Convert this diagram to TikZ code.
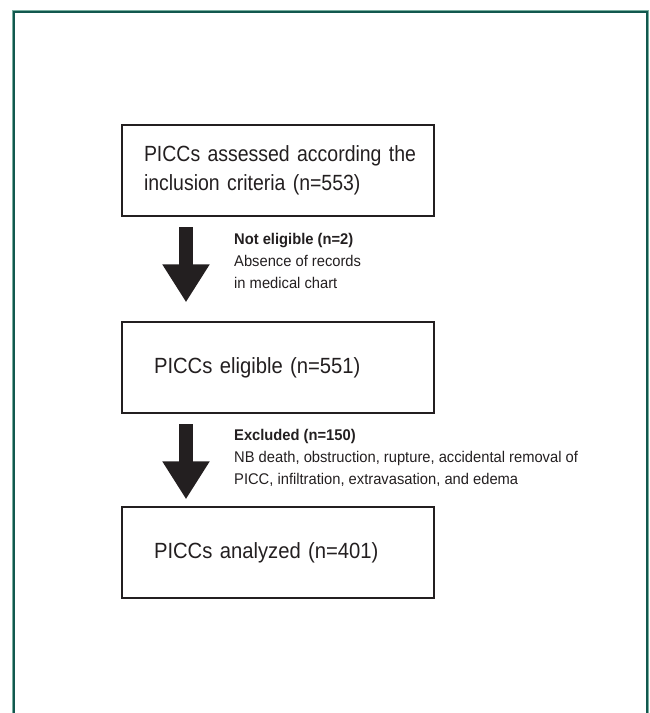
\documentclass[tikz,border=0pt]{standalone}
\usepackage{fontspec}
\usetikzlibrary{arrows.meta}
\newfontfamily\boxfont[FakeStretch=0.92]{Liberation Sans}
\newfontfamily\boxfontnarrow[FakeStretch=0.885]{Liberation Sans}
\newfontfamily\notefont[FakeStretch=0.95]{Liberation Sans}
\definecolor{ink}{RGB}{35,31,32}
\definecolor{framedark}{RGB}{18,88,78}
\definecolor{framelight}{RGB}{120,175,160}
\tikzset{
  stagebox/.style={draw=ink, line width=2pt, rectangle, anchor=north west,
    minimum width=312pt, minimum height=91pt, align=left, text=ink,
    font=\boxfont\fontsize{22}{29.5}\selectfont},
  notetext/.style={anchor=base west, align=left, inner sep=0pt, text=ink,
    font=\notefont\fontsize{15.5}{21.8}\selectfont},
  blockarrow/.style={draw=ink, line width=14.6pt,
    -{Triangle[width=44.7pt, length=38pt]}}
}
\begin{document}
\begin{tikzpicture}[x=1pt, y=-1pt]
\useasboundingbox (0,0) rectangle (649,713);
% outer frame (open at the bottom)
\draw[framelight, line width=0.8pt] (12.4,713) -- (12.4,10.3) -- (648.3,10.3) -- (648.3,713);
\draw[framedark, line width=1.6pt] (13.9,713) -- (13.9,11.8) -- (646.8,11.8) -- (646.8,713);
% stage boxes
\node[stagebox, inner xsep=22pt, text width=268pt,
      font=\boxfontnarrow\fontsize{22}{29.5}\selectfont] (b1) at (121,124)
  {\makebox[268pt][l]{PICCs assessed according the}\\inclusion criteria (n=553)};
\node[stagebox, inner xsep=32pt, text width=248pt] (b2) at (121,321)
  {PICCs eligible (n=551)};
\node[stagebox, inner xsep=32pt, text width=248pt] (b3) at (121,506)
  {PICCs analyzed (n=401)};
% arrows
\coordinate (a1s) at (186,227.3);
\coordinate (a1e) at (186,302.3);
\coordinate (a2s) at (186,424.3);
\coordinate (a2e) at (186,499.3);
\draw[blockarrow] (a1s) -- (a1e);
\draw[blockarrow] (a2s) -- (a2e);
% side notes (base anchor = baseline of the last line)
\node[notetext] (n1) at (234,288)
  {\textbf{Not eligible (n=2)}\\Absence of records\\in medical chart};
\node[notetext] (n2) at (234,484)
  {\textbf{Excluded (n=150)}\\NB death, obstruction, rupture, accidental removal of\\PICC, infiltration, extravasation, and edema};
\end{tikzpicture}
\end{document}
